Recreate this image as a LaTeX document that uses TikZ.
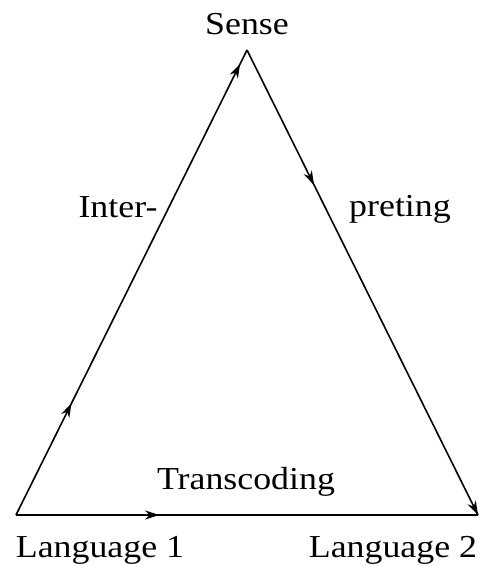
\documentclass[tikz,border=0pt]{standalone}
\usepackage{fontspec}
\setmainfont{Liberation Serif}
\usetikzlibrary{decorations.markings,arrows.meta}
\begin{document}
\begin{tikzpicture}[x=1pt,y=-1pt,
  edge/.style={line width=1.6pt, postaction={decorate}},
  lbl/.style={font=\fontsize{32}{38}\selectfont, inner sep=0pt, anchor=base, xscale=1.12, transform shape}]
\useasboundingbox (0,0) rectangle (480,566);
\coordinate (L1) at (16,515);
\coordinate (S) at (247,50);
\coordinate (L2) at (478,515);
\node[lbl] (sense) at (247,34) {Sense};
\node[lbl] (inter) at (118,217) {Inter-};
\node[lbl] (pret) at (400,216) {preting};
\node[lbl] (trans) at (246,489) {Transcoding};
\node[lbl] (lang1) at (100,557) {Language 1};
\node[lbl] (lang2) at (393,557) {Language 2};
\draw[edge, decoration={markings,
   mark=at position 0.24 with {\arrow{Stealth[length=14pt,width=9pt]}},
   mark=at position 0.97 with {\arrow{Stealth[length=14pt,width=9pt]}}}] (L1) -- (S);
\draw[edge, decoration={markings,
   mark=at position 0.29 with {\arrow{Stealth[length=14pt,width=9pt]}},
   mark=at position 1 with {\arrow{Stealth[length=14pt,width=9pt]}}}] (S) -- (L2);
\draw[edge, decoration={markings,
   mark=at position 0.31 with {\arrow{Stealth[length=14pt,width=9pt]}}}] (L1) -- (L2);
\end{tikzpicture}
\end{document}
